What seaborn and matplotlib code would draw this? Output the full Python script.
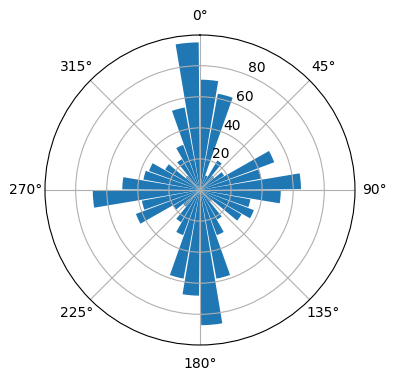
import numpy as np
import pandas as pd
import matplotlib
matplotlib.use("Agg")
import matplotlib.pyplot as plt
import seaborn as sns

# bar centres in degrees (36 sectors of 10 degrees)
directions = [5, 15, 25, 35, 45, 55, 65, 75, 85,
              95, 105, 115, 125, 135, 145, 155, 165, 175,
              185, 195, 205, 215, 225, 235, 245, 255, 265,
              275, 285, 295, 305, 315, 325, 335, 345, 355]
counts = [71, 63, 10, 22, 12, 18, 51, 40, 65,
          52, 33, 37, 31, 10, 22, 31, 58, 87,
          68, 58, 31, 24, 14, 20, 44, 38, 69,
          50, 37, 35, 26, 12, 23, 31, 54, 95]

df = pd.DataFrame({"theta": np.deg2rad(directions), "count": counts})

fig = plt.figure(figsize=(3.96, 3.8), dpi=100)
ax = fig.add_axes([0.1136, 0.0921, 0.7828, 0.8158], projection="polar")
ax.set_theta_zero_location("N")
ax.set_theta_direction(-1)

sns.barplot(data=df, x="theta", y="count", native_scale=True, width=0.9,
            color="#1f77b4", saturation=1, ax=ax)

ax.set_xlabel("")
ax.set_ylabel("")
ax.set_ylim(0, 99.75)
ax.set_yticks([20, 40, 60, 80])
ax.set_xticks(np.deg2rad(np.arange(0, 360, 45)))
ax.set_xticklabels([f"{d}°" for d in range(0, 360, 45)])
ax.grid(True)

plt.savefig("out.png", dpi=100)
